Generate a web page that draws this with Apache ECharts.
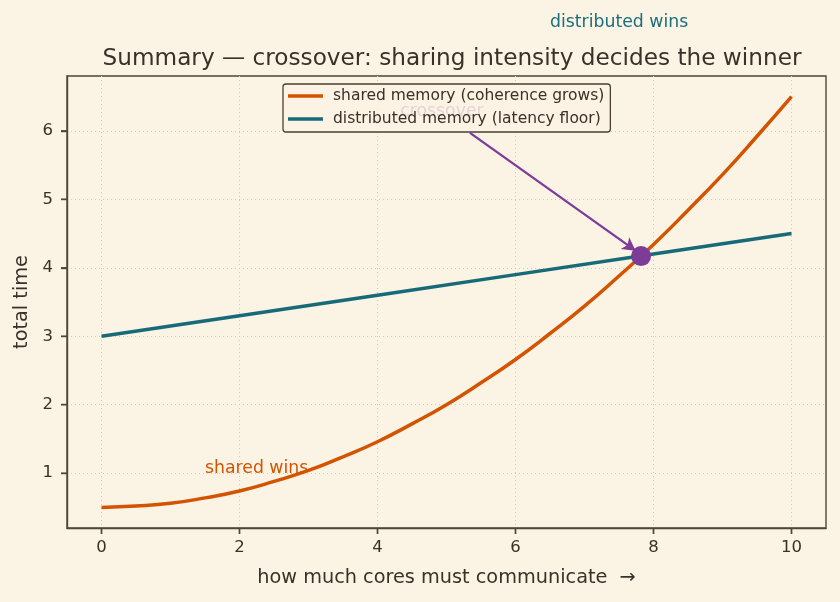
<!DOCTYPE html>
<html style="height: 100%">
<head>
    <meta charset="UTF-8">
    <title>Summary — crossover</title>
</head>
<body style="height: 100%; margin: 0; background: #fbf3e4">
    <div id="container" style="width: 840px; height: 602px"></div>

    <script src="https://cdn.jsdelivr.net/npm/echarts@6/dist/echarts.min.js"></script>

    <script type="text/javascript">
        // values
        var xTicks = [0, 2, 4, 6, 8, 10];
        var yTicks = [1, 2, 3, 4, 5, 6];
        var xMin = -0.5, xMax = 10.5, yMin = 0.2, yMax = 6.8;
        var sharedX = [0, 0.5, 1, 1.5, 2, 2.5, 3, 3.5, 4, 4.5, 5, 5.5, 6, 6.5, 7, 7.5, 8, 8.5, 9, 9.5, 10];
        var sharedY = [0.5, 0.52, 0.56, 0.64, 0.74, 0.88, 1.04, 1.24, 1.46, 1.72, 2.0, 2.32, 2.66, 3.04, 3.44, 3.88, 4.34, 4.84, 5.36, 5.92, 6.5];
        var distX = [0, 2, 4, 6, 8, 10];
        var distY = [3.0, 3.3, 3.6, 3.9, 4.2, 4.5];
        var crossPoint = [7.82, 4.17];
        var arrowFrom = [5.34, 5.97];
        var arrowTo = [7.74, 4.25];
        var notes = [
            {name: 'crossover', at: [4.33, 6.28], color: '#7d3c98'},
            {name: 'shared wins', at: [1.5, 1.07], color: '#d35400'},
            {name: 'distributed wins', at: [6.5, 7.58], color: '#1a6f7a'}
        ];

        var dom = document.getElementById('container');
        var myChart = echarts.init(dom);

        function zip(xs, ys) {
            var out = [];
            for (var i = 0; i < xs.length; i++) {
                out.push([xs[i], ys[i]]);
            }
            return out;
        }

        var ink = '#3a3128';
        var font = 'DejaVu Sans';
        var frame = '#4f463a';

        function axis(extra) {
            var base = {
                type: 'value',
                nameLocation: 'middle',
                nameTextStyle: {fontFamily: font, fontSize: 19.3, color: ink},
                axisLine: {show: true, onZero: false, lineStyle: {color: frame, width: 1.4}},
                axisTick: {show: true, length: 6, lineStyle: {color: frame, width: 1.4}},
                axisLabel: {fontFamily: font, fontSize: 16.5, color: ink},
                splitLine: {show: true, lineStyle: {color: '#d3c8b4', type: [1, 3], width: 1}}
            };
            for (var k in extra) {
                if (typeof extra[k] === 'object' && base[k]) {
                    for (var j in extra[k]) base[k][j] = extra[k][j];
                } else {
                    base[k] = extra[k];
                }
            }
            return base;
        }

        // outward tick marks through the axes' own scale (backs up axisTick)
        function tickSeries(values, horizontal) {
            return {
                type: 'custom',
                silent: true,
                clip: false,
                z: 6,
                data: values.map(function (v) { return horizontal ? [v, yMin] : [xMin, v]; }),
                renderItem: function (params, api) {
                    var p = api.coord([api.value(0), api.value(1)]);
                    var end = horizontal ? [p[0], p[1] + 6] : [p[0] - 6, p[1]];
                    return {
                        type: 'line',
                        shape: {x1: p[0], y1: p[1], x2: end[0], y2: end[1]},
                        style: {stroke: frame, lineWidth: 1.4}
                    };
                }
            };
        }

        var option = {
            backgroundColor: '#fbf3e4',
            animation: false,
            textStyle: {fontFamily: font},
            title: {
                text: 'Summary — crossover: sharing intensity decides the winner',
                left: 447,
                textAlign: 'center',
                top: 42,
                textStyle: {fontFamily: font, fontSize: 23.2, fontWeight: 'normal', color: ink}
            },
            legend: {
                orient: 'vertical',
                left: 283,
                top: 84,
                padding: [3, 6, 4, 5],
                itemGap: 5,
                itemWidth: 35,
                itemHeight: 3.5,
                icon: 'rect',
                backgroundColor: 'rgba(251,243,228,0.82)',
                borderColor: '#4a4035',
                borderWidth: 1.3,
                borderRadius: 3,
                textStyle: {fontFamily: font, fontSize: 15.5, lineHeight: 18, color: ink, padding: [0, 0, 0, 5]},
                data: ['shared memory (coherence grows)', 'distributed memory (latency floor)']
            },
            grid: {left: 67, right: 14, top: 76, bottom: 74, show: true, borderColor: frame, borderWidth: 1.4},
            xAxis: axis({
                min: xMin,
                max: xMax,
                name: 'how much cores must communicate  →',
                nameGap: 40,
                axisTick: {customValues: xTicks},
                axisLabel: {customValues: xTicks, margin: 11}
            }),
            yAxis: axis({
                min: yMin,
                max: yMax,
                name: 'total time',
                nameGap: 36,
                axisTick: {customValues: yTicks},
                axisLabel: {customValues: yTicks, margin: 14}
            }),
            series: [
                {
                    name: 'shared memory (coherence grows)',
                    type: 'line',
                    smooth: true,
                    showSymbol: false,
                    color: '#d35400',
                    lineStyle: {width: 3.5},
                    data: zip(sharedX, sharedY),
                    z: 3
                },
                {
                    name: 'distributed memory (latency floor)',
                    type: 'line',
                    showSymbol: false,
                    color: '#176a77',
                    lineStyle: {width: 3.5},
                    data: zip(distX, distY),
                    z: 3
                },
                {
                    name: 'crossover point',
                    type: 'scatter',
                    symbolSize: 20,
                    itemStyle: {color: '#7d3c98', opacity: 1},
                    data: [crossPoint],
                    z: 5,
                    markLine: {
                        silent: true,
                        symbol: ['none', 'arrow'],
                        symbolSize: [11, 13],
                        label: {show: false},
                        lineStyle: {color: '#7d3c98', width: 2.3, type: 'solid', opacity: 1},
                        data: [[{coord: arrowFrom}, {coord: arrowTo}]]
                    }
                },
                {
                    name: 'notes',
                    type: 'scatter',
                    symbolSize: 0,
                    clip: false,
                    z: 1,
                    itemStyle: {opacity: 1},
                    data: notes.map(function (n) {
                        return {
                            value: n.at,
                            label: {
                                show: true,
                                formatter: n.name,
                                position: 'right',
                                distance: 0,
                                fontFamily: font,
                                fontSize: 17.3,
                                color: n.color
                            }
                        };
                    })
                },
                tickSeries(xTicks, true),
                tickSeries(yTicks, false)
            ]
        };

        myChart.setOption(option);
    </script>
</body>
</html>
